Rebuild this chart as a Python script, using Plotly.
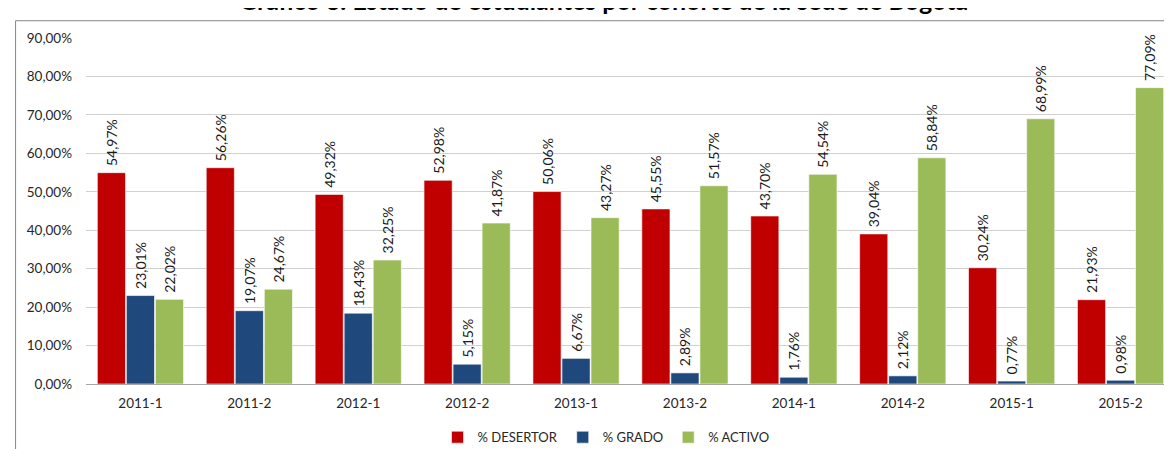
import plotly.graph_objects as go

categories = ["2011-1", "2011-2", "2012-1", "2012-2", "2013-1", "2013-2", "2014-1", "2014-2", "2015-1", "2015-2"]
desertor = [54.97, 56.26, 49.32, 52.98, 50.06, 45.55, 43.70, 39.04, 30.24, 21.93]
grado = [23.01, 19.07, 18.43, 5.15, 6.67, 2.89, 1.76, 2.12, 0.77, 0.98]
activo = [22.02, 24.67, 32.25, 41.87, 43.27, 51.57, 54.54, 58.84, 68.99, 77.09]
y_ticks = [0, 10, 20, 30, 40, 50, 60, 70, 80, 90]

series = [
    ("% DESERTOR", desertor, "#C00000"),
    ("% GRADO", grado, "#1F497D"),
    ("% ACTIVO", activo, "#9BBB59"),
]

FONT = "Lato"
fig = go.Figure()
for name, vals, col in series:
    fig.add_trace(go.Bar(
        name=name, x=categories, y=[v / 100 for v in vals],
        marker=dict(color=col, line=dict(color="rgba(255,255,255,0.6)", width=1)),
        texttemplate="\u00a0%{y:.2%}", textposition="outside", textangle=-90,
        textfont=dict(family=FONT, size=14, color="#1a1a1a"),
        cliponaxis=False,
    ))

W, H = 1172, 449
ml, mr, mt, mb = 77.5, 4.5, 30, 68
pw, ph = W - ml - mr, H - mt - mb

def px(x):
    return (x - ml) / pw

def py(y):
    return (H - mb - y) / ph

fig.update_layout(
    width=W, height=H,
    margin=dict(l=ml, r=mr, t=mt, b=mb, pad=0),
    paper_bgcolor="white", plot_bgcolor="white",
    separators=",.",
    barmode="group", bargap=0.2, bargroupgap=0.03,
    uniformtext=dict(minsize=14, mode="show"),
    font=dict(family=FONT, size=13, color="#262626"),
    showlegend=True,
    legend=dict(orientation="h", x=px(598), xanchor="center", y=py(435), yanchor="middle",
                font=dict(family=FONT, size=13, color="#262626"),
                itemwidth=30, traceorder="normal"),
    xaxis=dict(type="category", showgrid=False, showline=True, linecolor="#A6A6A6", linewidth=1,
               ticks="", ticklabelstandoff=7,
               tickfont=dict(family=FONT, size=13.5, color="#262626")),
    yaxis=dict(range=[0, 0.9], tickvals=[v / 100 for v in y_ticks], tickformat=".2%",
               showgrid=True, gridcolor="#D0D0D0", gridwidth=1, zeroline=False,
               showline=False, ticks="", ticklabelstandoff=13,
               tickfont=dict(family=FONT, size=13.5, color="#262626")),
    shapes=[dict(type="rect", xref="paper", yref="paper",
                 x0=px(7), x1=px(1180), y0=py(460), y1=py(12.5),
                 line=dict(color="#868686", width=1), fillcolor="rgba(0,0,0,0)", layer="below")],
    annotations=[dict(text="<b>Gráfico 3. Estado de estudiantes por cohorte de la sede de Bogotá</b>",
                      xref="paper", yref="paper", x=px(595), y=py(9), xanchor="center", yanchor="bottom",
                      showarrow=False, font=dict(family=FONT, size=25, color="#000000"))],
)

fig.write_html("out.html")
